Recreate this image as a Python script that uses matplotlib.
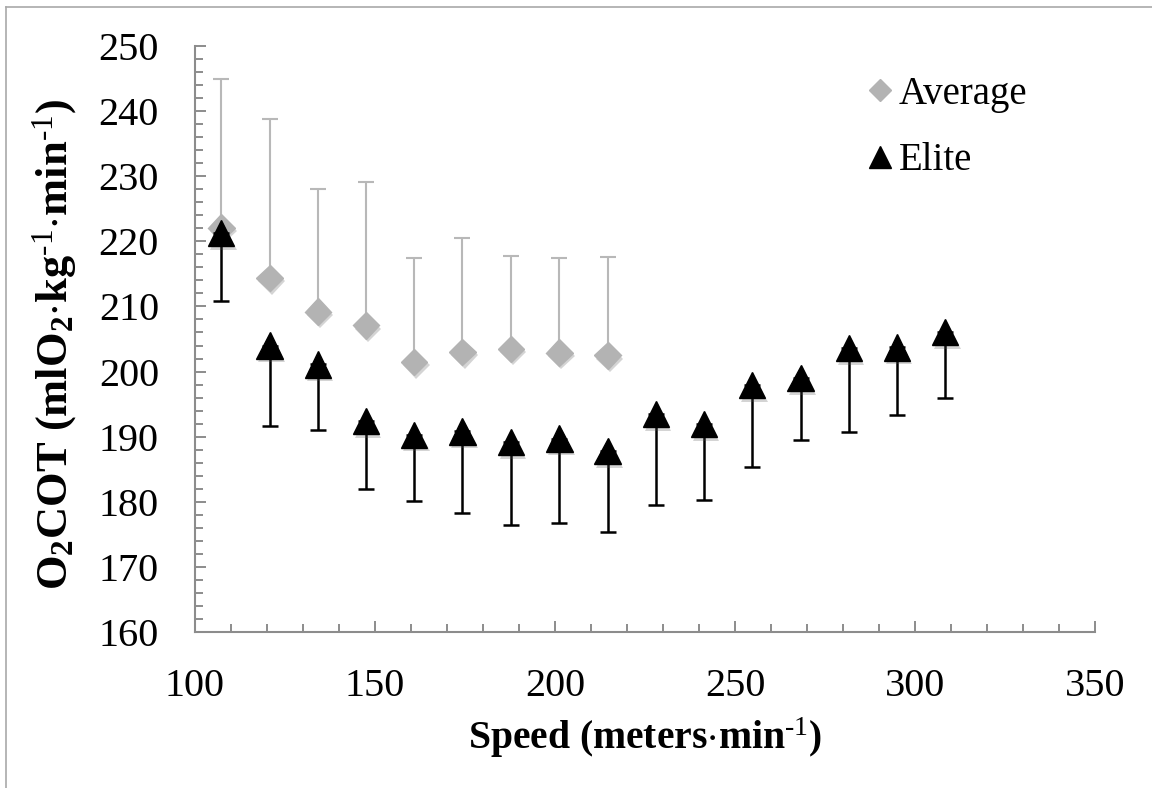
import matplotlib
matplotlib.use("Agg")
import matplotlib.pyplot as plt
import matplotlib.patheffects as pe
from matplotlib.lines import Line2D
from matplotlib.ticker import MultipleLocator

# Treadmill speeds (m/min), 4.0 to 11.5 mph in 0.5 mph steps
speed = [107.3, 120.7, 134.1, 147.5, 160.9, 174.3, 187.8, 201.2,
         214.6, 228.0, 241.4, 254.8, 268.2, 281.6, 295.0, 308.4]

# Average runners: mean O2 cost and +SD (upper bar only)
avg_mean = [222.1, 214.4, 209.2, 207.1, 201.5, 203.0, 203.5, 202.9, 202.5]
avg_sd = [22.8, 24.4, 18.9, 22.0, 15.9, 17.5, 14.3, 14.6, 15.1]

# Elite runners: mean O2 cost and -SD (lower bar only)
elite_mean = [221.3, 204.0, 201.1, 192.4, 190.3, 190.8, 189.2, 189.7,
              187.8, 193.5, 191.9, 197.9, 199.0, 203.6, 203.7, 206.1]
elite_sd = [10.4, 12.3, 10.0, 10.5, 10.2, 12.5, 12.7, 12.9,
            12.5, 14.0, 11.6, 12.6, 9.5, 12.9, 10.3, 10.1]

series_labels = ["Average", "Elite"]

plt.rcParams["font.family"] = ["Liberation Serif", "DejaVu Serif"]
plt.rcParams["mathtext.fontset"] = "custom"
plt.rcParams["mathtext.rm"] = "Liberation Serif"
plt.rcParams["mathtext.bf"] = "Liberation Serif:bold"
plt.rcParams["mathtext.default"] = "regular"

W, H, DPI = 1152, 788, 100
fig = plt.figure(figsize=(W / DPI, H / DPI), dpi=DPI)
fig.patch.set_facecolor("white")

# outer frame: top and left edges only
frame_col = "#a9a9a9"
fig.add_artist(Line2D([6 / W, 1], [1 - 7 / H, 1 - 7 / H], color=frame_col, lw=1.2,
                      transform=fig.transFigure))
fig.add_artist(Line2D([6 / W, 6 / W], [0, 1 - 7 / H], color=frame_col, lw=1.2,
                      transform=fig.transFigure))

ax = fig.add_axes([195 / W, 1 - 632 / H, 900 / W, 586 / H])
ax.set_xlim(100, 350)
ax.set_ylim(160, 250)

axis_col = "#8c8c8c"
for side in ("top", "right"):
    ax.spines[side].set_visible(False)
for side in ("left", "bottom"):
    ax.spines[side].set_color(axis_col)
    ax.spines[side].set_linewidth(1.5)

ax.xaxis.set_major_locator(MultipleLocator(50))
ax.xaxis.set_minor_locator(MultipleLocator(10))
ax.yaxis.set_major_locator(MultipleLocator(10))
ax.yaxis.set_minor_locator(MultipleLocator(2))
ax.tick_params(which="major", direction="in", length=8, width=1.4, color=axis_col,
               labelsize=29, pad=26)
ax.tick_params(which="minor", direction="in", length=6, width=1.4, color=axis_col)

n_avg = len(avg_mean)
shadow = [pe.SimplePatchShadow(offset=(1.5, -2.5), shadow_rgbFace="#555555", alpha=0.25),
          pe.Normal()]

# Average: upper error bars only
ax.errorbar(speed[:n_avg], avg_mean, yerr=[[0] * n_avg, avg_sd], fmt="none",
            ecolor="#b8b8b8", elinewidth=1.5, capsize=6, capthick=1.5, zorder=2)
ax.plot(speed[:n_avg], avg_mean, linestyle="none", marker="D", markersize=13.5,
        markerfacecolor="#b3b3b3", markeredgecolor="#b3b3b3", zorder=3,
        path_effects=shadow)

# Elite: lower error bars only
ax.errorbar(speed, elite_mean, yerr=[elite_sd, [0] * len(elite_sd)], fmt="none",
            ecolor="black", elinewidth=1.8, capsize=6, capthick=1.8, zorder=4)
ax.plot(speed, elite_mean, linestyle="none", marker="^", markersize=19,
        markerfacecolor="black", markeredgecolor="black", zorder=5,
        path_effects=shadow)

handles = [
    Line2D([], [], linestyle="none", marker="D", markersize=11.5,
           markerfacecolor="#b3b3b3", markeredgecolor="#b3b3b3"),
    Line2D([], [], linestyle="none", marker="^", markersize=16,
           markerfacecolor="black", markeredgecolor="black"),
]
fig.legend(handles, series_labels, loc="upper left",
           bbox_to_anchor=(868 / W, 1 - 76 / H), bbox_transform=fig.transFigure,
           frameon=False, fontsize=28, handlelength=0.6, handletextpad=0.2,
           labelspacing=0.75, borderpad=0, borderaxespad=0)

fig.text(645 / W, 1 - 738 / H, r"Speed (meters$\cdot$min$^{\text{-1}}$)", ha="center",
         va="center", fontsize=28.5, fontweight="bold")
fig.text(55 / W, 1 - 345 / H,
         r"O$_2$COT (mlO$_2$$\cdot$kg$^{\text{-1}}$$\cdot$min$^{\text{-1}}$)",
         ha="center", va="center", rotation=90, fontsize=32, fontweight="bold")

fig.savefig("out.png", dpi=DPI, facecolor="white")
